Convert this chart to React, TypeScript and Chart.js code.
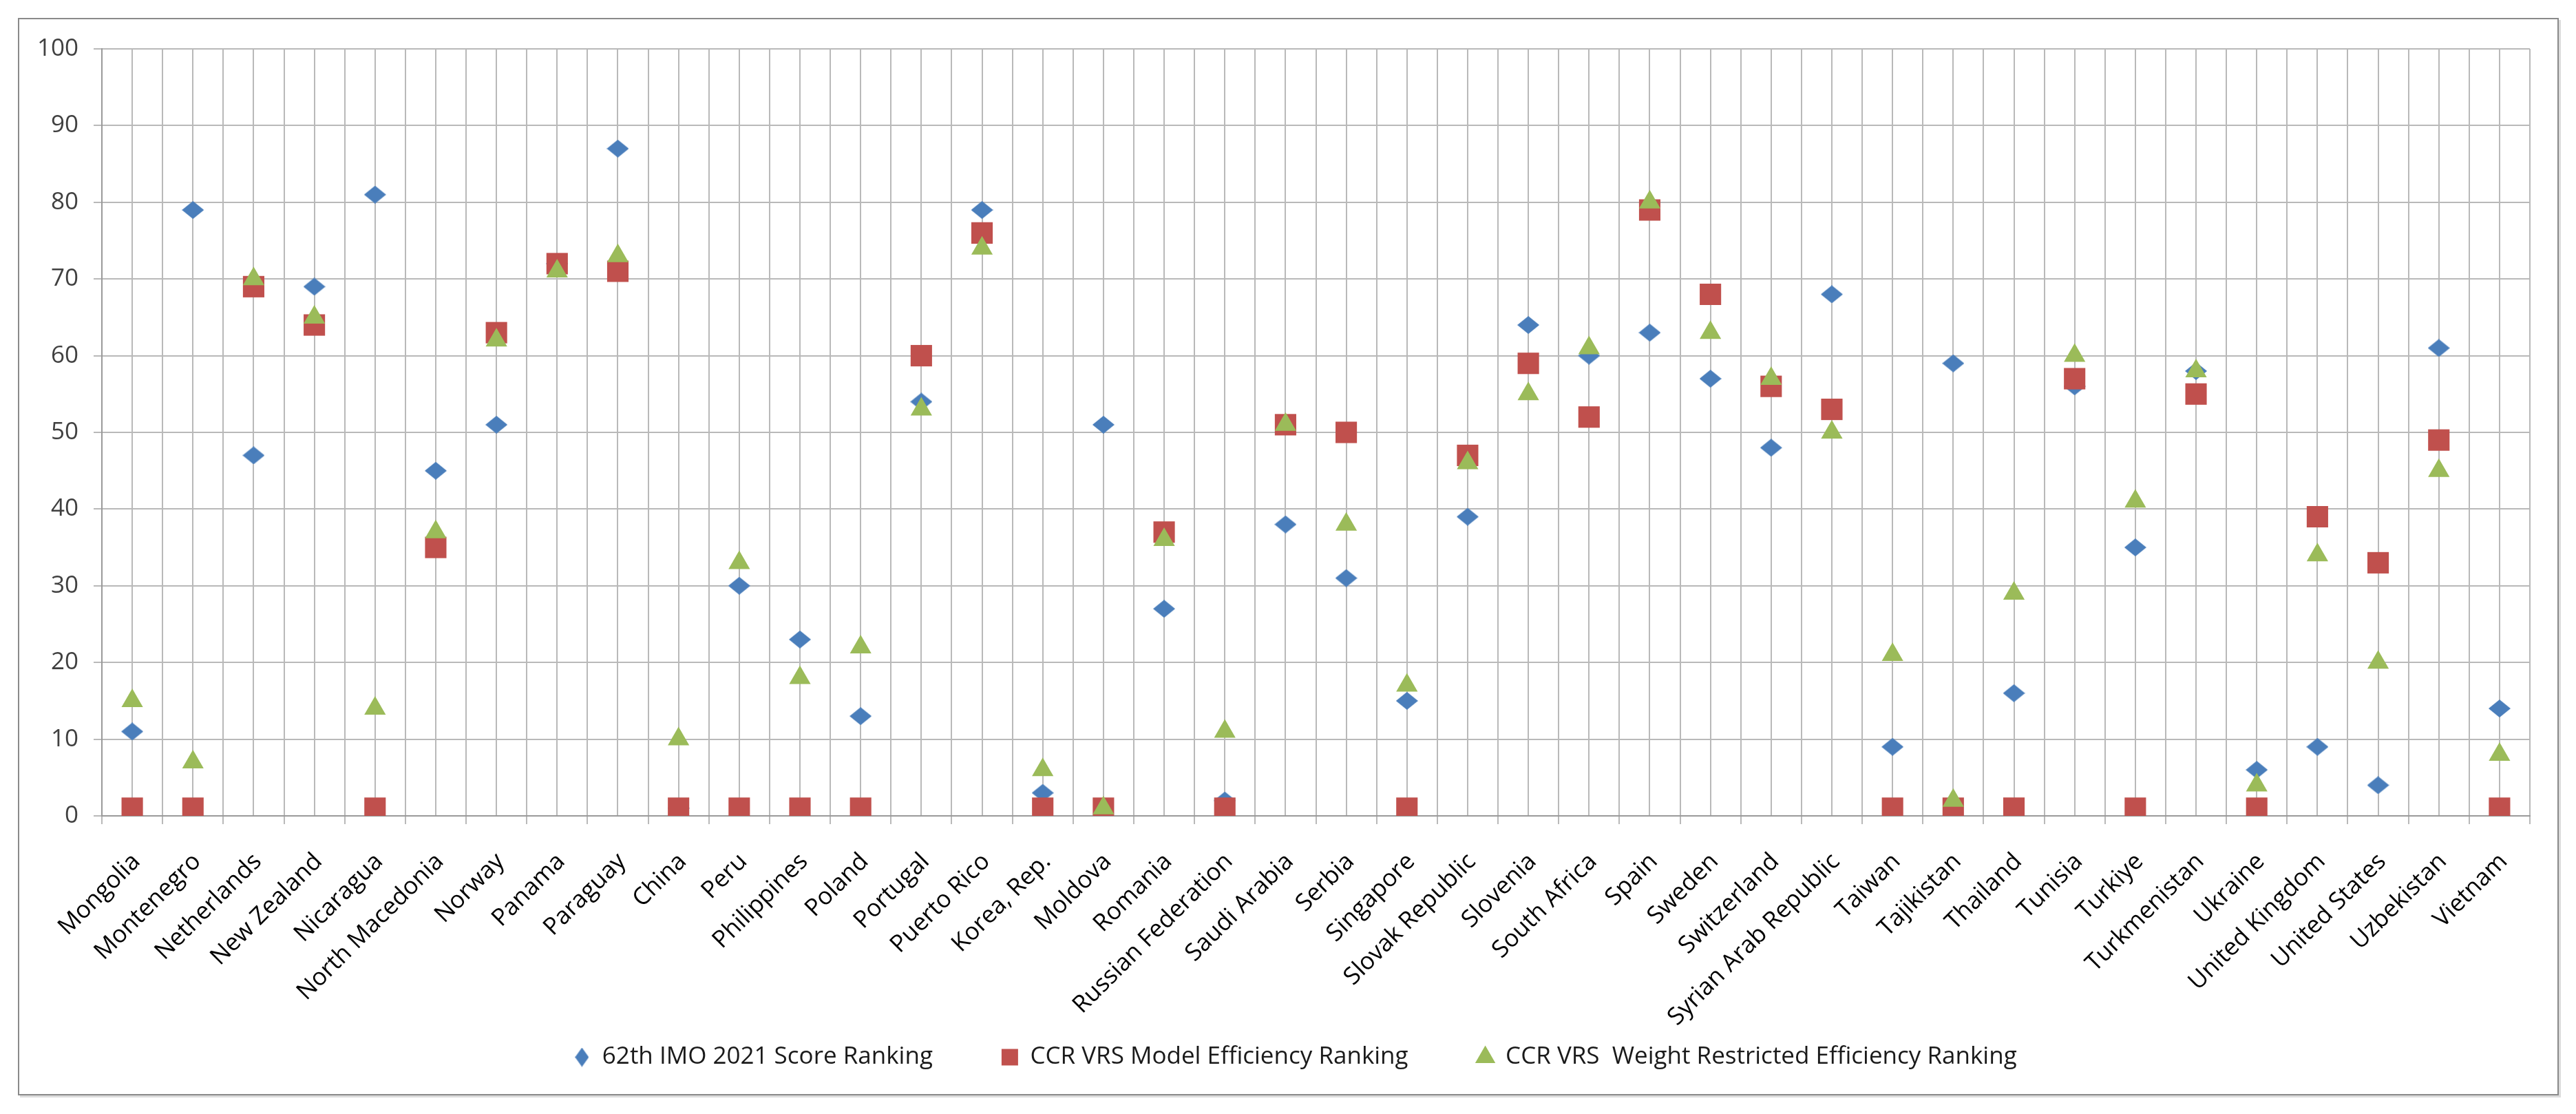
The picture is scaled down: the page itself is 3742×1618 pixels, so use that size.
import React, { useEffect, useRef } from "react";
import { Chart, registerables } from "chart.js";

Chart.register(...registerables);

const countries = [
  "Mongolia", "Montenegro", "Netherlands", "New Zealand", "Nicaragua", "North Macedonia",
  "Norway", "Panama", "Paraguay", "China", "Peru", "Philippines", "Poland", "Portugal",
  "Puerto Rico", "Korea, Rep.", "Moldova", "Romania", "Russian Federation", "Saudi Arabia",
  "Serbia", "Singapore", "Slovak Republic", "Slovenia", "South Africa", "Spain", "Sweden",
  "Switzerland", "Syrian Arab Republic", "Taiwan", "Tajikistan", "Thailand", "Tunisia",
  "Turkiye", "Turkmenistan", "Ukraine", "United Kingdom", "United States", "Uzbekistan", "Vietnam",
];

const imoScoreRanking = [
  11, 79, 47, 69, 81, 45, 51, 72, 87, 1, 30, 23, 13, 54, 79, 3, 51, 27, 2, 38,
  31, 15, 39, 64, 60, 63, 57, 48, 68, 9, 59, 16, 56, 35, 58, 6, 9, 4, 61, 14,
];

const ccrVrsModelRanking = [
  1, 1, 69, 64, 1, 35, 63, 72, 71, 1, 1, 1, 1, 60, 76, 1, 1, 37, 1, 51,
  50, 1, 47, 59, 52, 79, 68, 56, 53, 1, 1, 1, 57, 1, 55, 1, 39, 33, 49, 1,
];

const weightRestrictedRanking = [
  15, 7, 70, 65, 14, 37, 62, 71, 73, 10, 33, 18, 22, 53, 74, 6, 1, 36, 11, 51,
  38, 17, 46, 55, 61, 80, 63, 57, 50, 21, 2, 29, 60, 41, 58, 4, 34, 20, 45, 8,
];

const seriesNames = [
  "62th IMO 2021 Score Ranking",
  "CCR VRS Model Efficiency Ranking",
  "CCR VRS  Weight Restricted Efficiency Ranking",
];

const yMin = 0;
const yMax = 100;
const yStep = 10;

const BLUE = "#4A7EBB";
const RED = "#C0504D";
const GREEN = "#9BBB59";
const GRID = "#b9b9b9";
const AXIS = "#9a9a9a";

function makeDiamond(w: number, h: number, color: string): HTMLCanvasElement {
  const c = document.createElement("canvas");
  c.width = w;
  c.height = h;
  const ctx = c.getContext("2d")!;
  ctx.fillStyle = color;
  ctx.beginPath();
  ctx.moveTo(w / 2, 0);
  ctx.lineTo(w, h / 2);
  ctx.lineTo(w / 2, h);
  ctx.lineTo(0, h / 2);
  ctx.closePath();
  ctx.fill();
  return c;
}

export default function App() {
  const canvasRef = useRef<HTMLCanvasElement | null>(null);

  useEffect(() => {
    if (!canvasRef.current) return;
    const diamond = makeDiamond(32, 26, BLUE);
    const legendDiamond = makeDiamond(20, 28, BLUE);
    const tickFont = { family: "'Open Sans', 'DejaVu Sans', sans-serif", size: 35 };

    const chart = new Chart(canvasRef.current, {
      type: "line",
      data: {
        labels: countries,
        datasets: [
          {
            label: seriesNames[0],
            data: imoScoreRanking,
            showLine: false,
            pointStyle: diamond as any,
            pointRadius: 16,
            pointBorderWidth: 0,
            borderWidth: 0,
            backgroundColor: BLUE,
            borderColor: BLUE,
            order: 3,
          },
          {
            label: seriesNames[1],
            data: ccrVrsModelRanking,
            showLine: false,
            pointStyle: "rect",
            pointRadius: 22,
            pointBorderWidth: 0,
            borderWidth: 0,
            backgroundColor: RED,
            borderColor: RED,
            order: 2,
          },
          {
            label: seriesNames[2],
            data: weightRestrictedRanking,
            showLine: false,
            pointStyle: "triangle",
            pointRadius: 18,
            pointBorderWidth: 0,
            borderWidth: 0,
            backgroundColor: GREEN,
            borderColor: GREEN,
            order: 1,
          },
        ],
      },
      options: {
        animation: false,
        responsive: true,
        maintainAspectRatio: false,
        layout: { padding: { left: 60, top: 41, right: 40, bottom: 26 } },
        plugins: {
          tooltip: { enabled: false },
          legend: {
            position: "bottom",
            labels: {
              usePointStyle: true,
              boxWidth: 24,
              boxHeight: 24,
              padding: 100,
              color: "#1a1a1a",
              font: { family: "'Liberation Sans Narrow', 'Open Sans', sans-serif", size: 35 },
              sort: (a: any, b: any) => a.datasetIndex - b.datasetIndex,
              generateLabels: (ch: any) => {
                const items = (Chart.defaults.plugins.legend.labels as any).generateLabels(ch);
                items.forEach((it: any) => {
                  if (it.datasetIndex === 0) it.pointStyle = legendDiamond;
                  it.lineWidth = 0;
                });
                return items;
              },
            },
          },
        },
        scales: {
          x: {
            type: "category",
            offset: true,
            grid: { offset: true, color: GRID, lineWidth: 2, tickLength: 12, tickColor: GRID },
            border: { color: AXIS, width: 2 },
            ticks: {
              autoSkip: false,
              minRotation: 45,
              maxRotation: 45,
              padding: 34,
              labelOffset: 6,
              color: "#000",
              font: tickFont,
            },
            afterFit: (s: any) => {
              s.height = 233;
              // let the long rotated labels run past the axis box (no clipping)
              s._computeLabelArea = () => undefined;
            },
          },
          xc: {
            type: "category",
            position: "bottom",
            offset: true,
            grid: { offset: false, color: GRID, lineWidth: 2, drawTicks: false },
            border: { display: false },
            ticks: { display: false },
            afterFit: (s: any) => {
              s.height = 0;
            },
          },
          y: {
            min: yMin,
            max: yMax,
            ticks: { stepSize: yStep, padding: 22, color: "#404040", font: tickFont },
            grid: { color: GRID, lineWidth: 2, tickLength: 12, tickColor: GRID },
            border: { color: AXIS, width: 2 },
            afterFit: (s: any) => {
              s.width = 60;
              s._computeLabelArea = () => undefined;
            },
          },
        },
      } as any,
    });
    return () => chart.destroy();
  }, []);

  return (
    <div
      style={{
        position: "absolute",
        left: 26,
        top: 26,
        width: 3691,
        height: 1565,
        border: "2px solid #8a8a8a",
        boxShadow: "3px 3px 0 #dcdcdc",
        boxSizing: "border-box",
        background: "#fff",
      }}
    >
      <div style={{ position: "relative", width: "100%", height: "100%" }}>
        <canvas ref={canvasRef} />
      </div>
    </div>
  );
}
